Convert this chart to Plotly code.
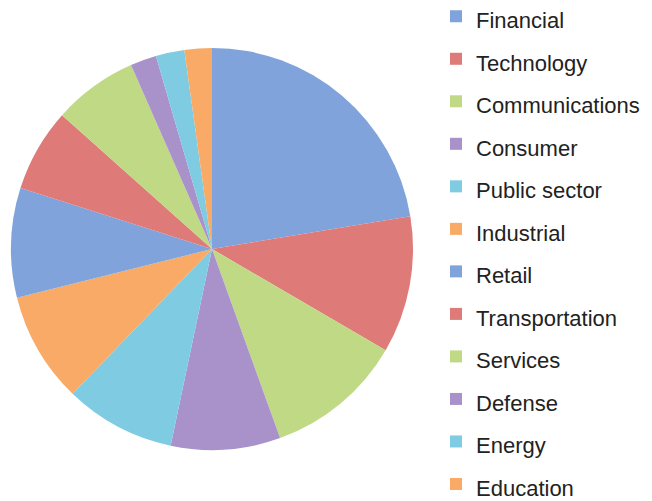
import plotly.graph_objects as go

# sectors, in the order they run clockwise from 12 o'clock
sectors = ['Financial', 'Technology', 'Communications', 'Consumer',
           'Public sector', 'Industrial', 'Retail', 'Transportation',
           'Services', 'Defense', 'Energy', 'Education']
shares = [22.4, 11.0, 11.1, 8.8, 8.9, 8.9, 8.8, 6.7, 6.8, 2.1, 2.3, 2.2]

palette = ['#7FA3DA', '#DE7B78', '#BFD985', '#A892C9', '#7ECBE2', '#F8AA66']
colors = [palette[i % 6] for i in range(len(sectors))]

# smaller text inside a taller legend line, to get the wide item spacing
labels = ["<span style='font-size:22px'>" + s + "</span>" for s in sectors]

# page body adds an 8px offset, so positions below are shifted by it
fig = go.Figure(go.Pie(
    labels=labels,
    values=shares,
    sort=False,
    direction='clockwise',
    rotation=0,
    textinfo='none',
    hoverinfo='label+percent',
    marker=dict(colors=colors, line=dict(width=0)),
    domain=dict(x=[3/652, 405/652], y=[(501-442)/501, (501-40)/501]),
))

fig.update_layout(
    width=652, height=501,
    margin=dict(l=0, r=0, t=0, b=0, autoexpand=False),
    paper_bgcolor='white',
    plot_bgcolor='white',
    font=dict(family='Liberation Sans, Arial, sans-serif', color='#222222'),
    legend=dict(x=428/652, y=1 + 18/501, xanchor='left', yanchor='top',
                font=dict(size=30.4, color='#222222'),
                bgcolor='rgba(0,0,0,0)', maxheight=800),
)

fig.write_html("out.html")
